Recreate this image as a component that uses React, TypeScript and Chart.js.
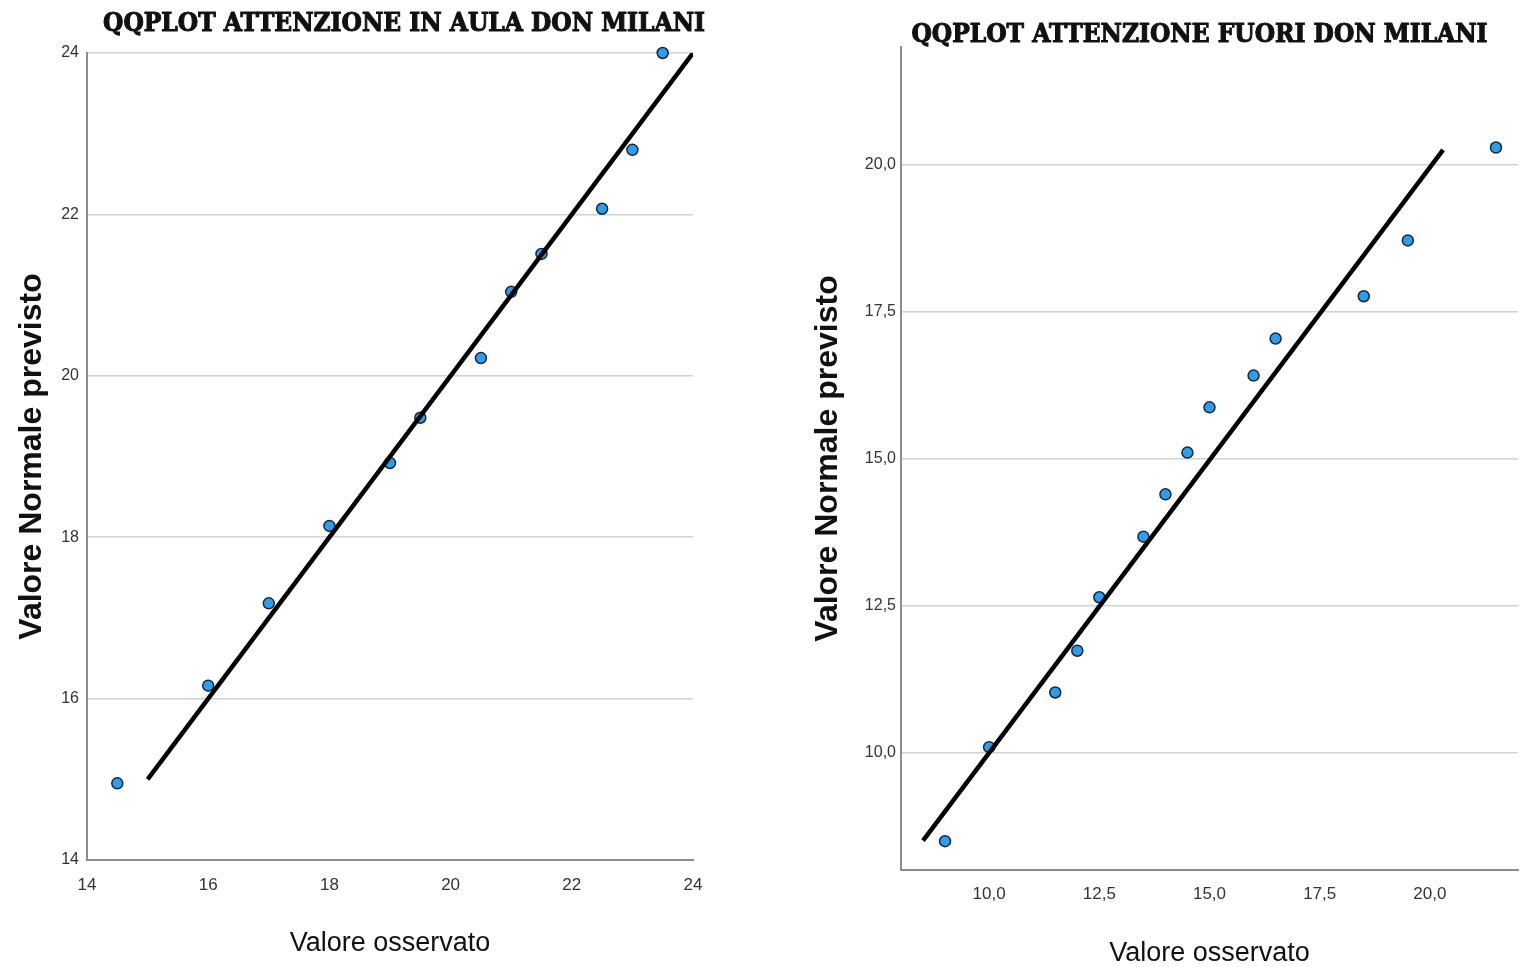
import React, { useEffect, useRef } from "react";
import { Chart, registerables } from "chart.js";

Chart.register(...registerables);

// ---------- data ----------
const leftTitle = "QQPLOT ATTENZIONE IN AULA DON MILANI";
const rightTitle = "QQPLOT ATTENZIONE FUORI DON MILANI";
const xAxisTitle = "Valore osservato";
const yAxisTitle = "Valore Normale previsto";

const leftObserved = [14.5, 16, 17, 18, 19, 19.5, 20.5, 21, 21.5, 22.5, 23, 23.5];
const leftExpected = [14.95, 16.16, 17.18, 18.14, 18.92, 19.48, 20.22, 21.04, 21.51, 22.07, 22.8, 24.0];
const leftLineX = [15, 24];
const leftLineY = [15, 24];
const leftTicks = [14, 16, 18, 20, 22, 24];
const leftTickLabels = ["14", "16", "18", "20", "22", "24"];

const rightObserved = [9, 10, 11.5, 12, 12.5, 13.5, 14, 14.5, 15, 16, 16.5, 18.5, 19.5, 21.5];
const rightExpected = [8.49, 10.09, 11.02, 11.73, 12.64, 13.67, 14.39, 15.1, 15.87, 16.41, 17.04, 17.76, 18.71, 20.29];
const rightLineX = [8.5, 20.3];
const rightLineY = [8.5, 20.25];
const rightTicks = [10, 12.5, 15, 17.5, 20];
const rightTickLabels = ["10,0", "12,5", "15,0", "17,5", "20,0"];

// ---------- plugin: heavy title drawn on the canvas ----------
const stencilTitle = {
  id: "stencilTitle",
  afterDraw(chart: any, _args: any, opts: any) {
    const { ctx, chartArea } = chart;
    const x = (chartArea.left + chartArea.right) / 2 + opts.dx;
    ctx.save();
    ctx.font = opts.font;
    ctx.fillStyle = opts.color;
    ctx.strokeStyle = opts.color;
    ctx.lineWidth = 1;
    ctx.lineJoin = "miter";
    ctx.textAlign = "center";
    ctx.textBaseline = "middle";
    ctx.fillText(opts.text, x, opts.y);
    ctx.strokeText(opts.text, x, opts.y);
    ctx.restore();
  },
};

type PanelProps = {
  left: number;
  width: number;
  height: number;
  title: string;
  titleDx: number;
  titleY: number;
  observed: number[];
  expected: number[];
  lineX: number[];
  lineY: number[];
  xMin: number;
  xMax: number;
  yMin: number;
  yMax: number;
  ticks: number[];
  tickLabels: string[];
  yAxisWidth: number;
  xAxisHeight: number;
  padTop: number;
  padRight: number;
  yTitlePad: number;
  xTitlePad: number;
  xTickFont: any;
  yTickFont: any;
  xTickPad: number;
  yTickPad: number;
};

function QQPanel(p: PanelProps) {
  const ref = useRef<HTMLCanvasElement | null>(null);

  useEffect(() => {
    if (!ref.current) return;
    const label = (v: number) => {
      const i = p.ticks.indexOf(v);
      return i >= 0 ? p.tickLabels[i] : "";
    };
    const setTicks = (s: any) => {
      s.ticks = p.ticks.map((v) => ({ value: v }));
    };
    const chart = new Chart(ref.current, {
      type: "scatter",
      data: {
        datasets: [
          {
            type: "line",
            data: p.lineX.map((x, i) => ({ x, y: p.lineY[i] })),
            borderColor: "#000000",
            borderWidth: 4.5,
            borderCapStyle: "butt",
            pointRadius: 0,
            fill: false,
            tension: 0,
          } as any,
          {
            type: "scatter",
            data: p.observed.map((x, i) => ({ x, y: p.expected[i] })),
            pointRadius: 5.5,
            pointBackgroundColor: "#2a9ff0",
            pointBorderColor: "#1c2633",
            pointBorderWidth: 1.5,
            showLine: false,
            clip: false,
          } as any,
        ],
      },
      options: {
        responsive: false,
        maintainAspectRatio: false,
        animation: false,
        devicePixelRatio: 1,
        layout: { padding: { left: 0, right: p.padRight, top: p.padTop, bottom: 0 } },
        plugins: {
          legend: { display: false },
          tooltip: { enabled: false },
          stencilTitle: {
            text: p.title,
            font: "bold 26px 'DejaVu Serif Condensed', 'DejaVu Serif', serif",
            color: "#111111",
            dx: p.titleDx,
            y: p.titleY,
          },
        } as any,
        scales: {
          x: {
            type: "linear",
            min: p.xMin,
            max: p.xMax,
            afterBuildTicks: setTicks,
            afterFit: (s: any) => {
              s.height = p.xAxisHeight;
            },
            grid: { display: false, drawTicks: false },
            border: { display: true, color: "#8c8c8c", width: 2 },
            ticks: {
              callback: (v: any) => label(Number(v)),
              font: p.xTickFont,
              color: "#333333",
              padding: p.xTickPad,
              maxRotation: 0,
              autoSkip: false,
            },
            title: {
              display: true,
              text: xAxisTitle,
              font: { family: "'Liberation Sans', Arial, sans-serif", size: 27, lineHeight: 1 },
              color: "#111111",
              padding: { top: 0, bottom: p.xTitlePad },
            },
          },
          y: {
            type: "linear",
            min: p.yMin,
            max: p.yMax,
            afterBuildTicks: setTicks,
            afterFit: (s: any) => {
              s.width = p.yAxisWidth;
            },
            grid: { display: true, drawTicks: false, color: "#d2d2d2", lineWidth: 1.5 },
            border: { display: true, color: "#8c8c8c", width: 2 },
            ticks: {
              callback: (v: any) => label(Number(v)),
              font: p.yTickFont,
              color: "#333333",
              padding: p.yTickPad,
              autoSkip: false,
            },
            title: {
              display: true,
              text: yAxisTitle,
              font: { family: "'Liberation Sans', Arial, sans-serif", size: 32, weight: "bold", lineHeight: 1 },
              color: "#111111",
              padding: { top: p.yTitlePad, bottom: 0 },
            },
          },
        },
      },
      plugins: [stencilTitle as any],
    });
    return () => chart.destroy();
  }, []);

  return (
    <canvas
      ref={ref}
      width={p.width}
      height={p.height}
      style={{ position: "absolute", left: p.left, top: 0, width: p.width, height: p.height }}
    />
  );
}

export default function App() {
  return (
    <div
      style={{
        position: "absolute",
        left: 0,
        top: 0,
        width: 1528,
        height: 967,
        background: "#ffffff",
        overflow: "hidden",
      }}
    >
      <QQPanel
        left={0}
        width={760}
        height={967}
        title={leftTitle}
        titleDx={14}
        titleY={24}
        observed={leftObserved}
        expected={leftExpected}
        lineX={leftLineX}
        lineY={leftLineY}
        xMin={14}
        xMax={24}
        yMin={14}
        yMax={24}
        ticks={leftTicks}
        tickLabels={leftTickLabels}
        yAxisWidth={87}
        xAxisHeight={107}
        padTop={53}
        padRight={67}
        yTitlePad={16}
        xTitlePad={10}
        xTickFont={{ family: "'Liberation Sans', Arial, sans-serif", size: 17 }}
        yTickFont={{ family: "'Liberation Sans', Arial, sans-serif", size: 16 }}
        xTickPad={15}
        yTickPad={8}
      />
      <QQPanel
        left={760}
        width={768}
        height={967}
        title={rightTitle}
        titleDx={-10}
        titleY={35}
        observed={rightObserved}
        expected={rightExpected}
        lineX={rightLineX}
        lineY={rightLineY}
        xMin={8}
        xMax={22}
        yMin={8}
        yMax={22}
        ticks={rightTicks}
        tickLabels={rightTickLabels}
        yAxisWidth={141}
        xAxisHeight={97}
        padTop={47}
        padRight={10}
        yTitlePad={52}
        xTitlePad={0}
        xTickFont={{ family: "'Liberation Sans', Arial, sans-serif", size: 17 }}
        yTickFont={{ family: "'Liberation Sans', Arial, sans-serif", size: 16 }}
        xTickPad={14}
        yTickPad={5}
      />
    </div>
  );
}
